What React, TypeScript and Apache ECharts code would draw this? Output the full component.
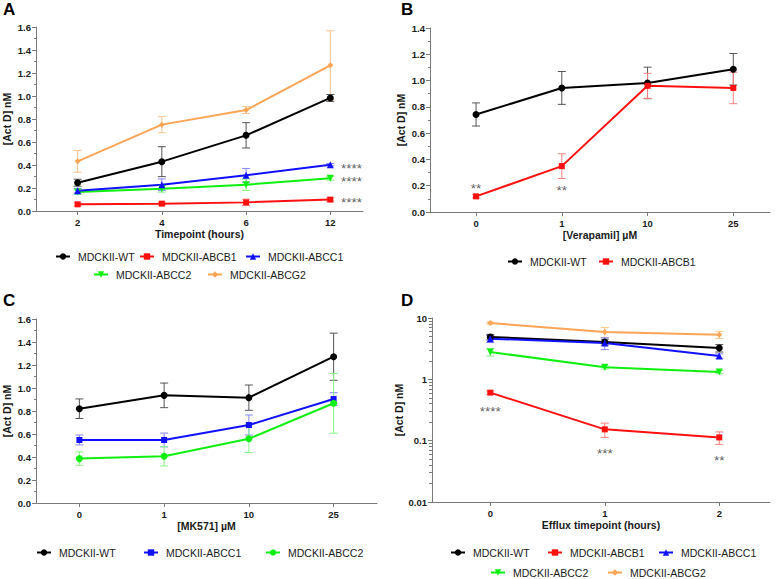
import React, { useEffect, useRef } from "react";
import * as echarts from "echarts";

// ---------- categories / tick labels ----------
const timepoints = ["2", "4", "6", "12"];
const verapamilDoses = ["0", "1", "10", "25"];
const mk571Doses = ["0", "1", "10", "25"];
const effluxHours = ["0", "1", "2"];
const logMinorTicks = [0.02, 0.03, 0.04, 0.05, 0.06, 0.07, 0.08, 0.09, 0.2, 0.3, 0.4, 0.5, 0.6, 0.7, 0.8, 0.9, 2, 3, 4, 5, 6, 7, 8, 9];

// ---------- panel A : uptake over time ----------
const aWT = [0.246, 0.429, 0.658, 0.983];
const aWTsd = [0.03, 0.13, 0.11, 0.03];
const aABCB1 = [0.058, 0.064, 0.075, 0.099];
const aABCB1sd = [0.012, 0.012, 0.028, 0.015];
const aABCC1 = [0.177, 0.229, 0.31, 0.403];
const aABCC1sd = [0.02, 0.05, 0.06, 0.01];
const aABCC2 = [0.165, 0.194, 0.229, 0.284];
const aABCC2sd = [0.02, 0.03, 0.05, 0.015];
const aABCG2 = [0.432, 0.751, 0.878, 1.267];
const aABCG2sd = [0.095, 0.07, 0.03, 0.3];
const aStars = [
  [3.25, 0.4, "****"],
  [3.25, 0.28, "****"],
  [3.25, 0.097, "****"],
];

// ---------- panel B : verapamil ----------
const bWT = [0.742, 0.944, 0.982, 1.086];
const bWTsd = [0.088, 0.125, 0.12, 0.12];
const bABCB1 = [0.119, 0.349, 0.96, 0.944];
const bABCB1sd = [0.012, 0.094, 0.095, 0.12];
const bStars = [
  [0, 0.205, "**"],
  [1, 0.19, "**"],
];

// ---------- panel C : MK571 ----------
const cWT = [0.82, 0.936, 0.916, 1.272];
const cWTsd = [0.085, 0.107, 0.11, 0.205];
const cABCC1 = [0.548, 0.548, 0.678, 0.904];
const cABCC1sd = [0.043, 0.06, 0.087, 0.055];
const cABCC2 = [0.386, 0.406, 0.559, 0.867];
const cABCC2sd = [0.058, 0.084, 0.12, 0.26];

// ---------- panel D : efflux (log scale) ----------
const dWT = [4.9, 4.06, 3.24];
const dWTsd = [0.5, 0.45, 0.45];
const dABCB1 = [0.607, 0.153, 0.113];
const dABCB1sd = [0.04, 0.04, 0.026];
const dABCC1 = [4.6, 3.9, 2.4];
const dABCC1sd = [0.6, 0.85, 0.2];
const dABCC2 = [2.79, 1.57, 1.32];
const dABCC2sd = [0.4, 0.1, 0.08];
const dABCG2 = [8.28, 5.92, 5.35];
const dABCG2sd = [0.3, 1.1, 0.7];
const dStars = [
  [0, 0.34, "****"],
  [1, 0.0687, "***"],
  [2, 0.054, "**"],
];

// ---------- styles ----------
const FONT = "'Liberation Sans', Arial, Helvetica, sans-serif";
const AXIS_COLOR = "#7a7a7a";
const TEXT_COLOR = "#1a1a1a";
const COL = {
  WT: "#000000",
  ABCB1: "#ff1010",
  ABCC1: "#1010ff",
  ABCC2: "#10f010",
  ABCG2: "#fca556",
};
const ERRCOL = {
  WT: "#555555",
  ABCB1: "#ff8080",
  ABCC1: "#8585ff",
  ABCC2: "#85f585",
  ABCG2: "#fdc48f",
};
const TRI_DOWN = "path://M0,0L10,0L5,9Z";

const lineSeries = (label: string, panel: string, grid: number, values: number[], key: keyof typeof COL, symbol: string, size = 7) => ({
  type: "line",
  name: `${label}#${panel}`,
  xAxisIndex: grid,
  yAxisIndex: grid,
  data: values.map((v, i) => [i, v]),
  symbol,
  symbolSize: size,
  showSymbol: true,
  lineStyle: { color: COL[key], width: 2 },
  itemStyle: { color: COL[key] },
  emphasis: { disabled: true },
  silent: true,
  z: 3,
});

const errorSeries = (panel: string, grid: number, values: number[], sds: number[], key: keyof typeof ERRCOL) => ({
  type: "custom",
  name: `err-${key}-${panel}`,
  xAxisIndex: grid,
  yAxisIndex: grid,
  data: values.map((v, i) => [i, v - sds[i], v + sds[i]]),
  encode: { x: 0, y: [1, 2] },
  silent: true,
  z: 2,
  renderItem: (_params: any, api: any) => {
    const x = api.value(0);
    const top = api.coord([x, api.value(2)]);
    const bot = api.coord([x, api.value(1)]);
    const half = 4;
    const st = { stroke: ERRCOL[key], lineWidth: 1, fill: "none" };
    return {
      type: "group",
      children: [
        { type: "line", shape: { x1: top[0], y1: top[1], x2: bot[0], y2: bot[1] }, style: st },
        { type: "line", shape: { x1: top[0] - half, y1: top[1], x2: top[0] + half, y2: top[1] }, style: st },
        { type: "line", shape: { x1: bot[0] - half, y1: bot[1], x2: bot[0] + half, y2: bot[1] }, style: st },
      ],
    };
  },
});

const starSeries = (grid: number, stars: any[]) => ({
  type: "scatter",
  name: `stars-${grid}`,
  xAxisIndex: grid,
  yAxisIndex: grid,
  data: stars,
  symbolSize: 1,
  itemStyle: { color: "transparent" },
  silent: true,
  z: 4,
  label: {
    show: true,
    position: "inside",
    offset: [0, 3],
    formatter: (p: any) => p.value[2],
    color: "#333",
    fontSize: 13.5,
    lineHeight: 10,
    fontFamily: FONT,
  },
});

const xAxis = (grid: number, labels: string[], min: number, max: number, name: string) => ({
  type: "value",
  gridIndex: grid,
  min,
  max,
  name,
  nameLocation: "middle",
  nameGap: 17,
  nameTextStyle: { fontFamily: FONT, fontWeight: "bold", fontSize: 10.5, color: TEXT_COLOR },
  splitLine: { show: false },
  axisLine: { show: true, onZero: false, lineStyle: { color: AXIS_COLOR, width: 1 } },
  axisTick: { show: true, length: 4, customValues: labels.map((_, i) => i), lineStyle: { color: AXIS_COLOR } },
  axisLabel: {
    customValues: labels.map((_, i) => i),
    formatter: (v: number) => labels[Math.round(v)] ?? "",
    fontFamily: FONT,
    fontWeight: "bold",
    fontSize: 9.5,
    color: TEXT_COLOR,
    margin: 6,
  },
});

const yAxisLinear = (grid: number, max: number) => ({
  type: "value",
  gridIndex: grid,
  min: 0,
  max,
  interval: 0.2,
  name: "[Act D] nM",
  nameLocation: "middle",
  nameRotate: 90,
  nameGap: 24,
  nameTextStyle: { fontFamily: FONT, fontWeight: "bold", fontSize: 10.5, color: TEXT_COLOR },
  splitLine: { show: false },
  axisLine: { show: true, onZero: false, lineStyle: { color: AXIS_COLOR, width: 1 } },
  axisTick: { show: true, length: 4, lineStyle: { color: AXIS_COLOR } },
  minorTick: { show: true, splitNumber: 2, length: 2, lineStyle: { color: AXIS_COLOR } },
  axisLabel: {
    formatter: (v: number) => v.toFixed(1),
    fontFamily: FONT,
    fontWeight: "bold",
    fontSize: 9.5,
    color: TEXT_COLOR,
    margin: 5,
  },
});

const legendItem = (seriesName: string, left: number, y: number) => ({
  data: [seriesName],
  left,
  top: y - 6,
  padding: 0,
  orient: "horizontal",
  itemWidth: 14,
  itemHeight: 8,
  selectedMode: false,
  formatter: (n: string) => n.split("#")[0],
  textStyle: { fontFamily: FONT, fontSize: 10.5, color: TEXT_COLOR, padding: [0, 0, 0, 3] },
});

const panelTitle = (text: string, left: number, top: number) => ({
  text,
  left,
  top,
  padding: 0,
  textStyle: { fontFamily: FONT, fontWeight: "bold", fontSize: 17, color: "#000" },
});

export default function App() {
  const ref = useRef<HTMLDivElement>(null);

  useEffect(() => {
    document.body.style.margin = "0";
    if (!ref.current) return;
    const chart = echarts.init(ref.current, undefined, { renderer: "svg" });

    const option: any = {
      animation: false,
      backgroundColor: "#ffffff",
      title: [
        panelTitle("A", 3, 1),
        panelTitle("B", 401, 1),
        panelTitle("C", 3, 292),
        panelTitle("D", 401, 292),
      ],
      grid: [
        { left: 33, top: 27, width: 330, height: 184 },
        { left: 430, top: 28, width: 340, height: 184 },
        { left: 33, top: 319, width: 344, height: 184 },
        { left: 432, top: 318, width: 338, height: 184 },
      ],
      xAxis: [
        xAxis(0, timepoints, -0.494, 3.388, "Timepoint (hours)"),
        xAxis(1, verapamilDoses, -0.537, 3.428, "[Verapamil] µM"),
        xAxis(2, mk571Doses, -0.512, 3.512, "[MK571] µM"),
        xAxis(3, effluxHours, -0.509, 2.443, "Efflux timepoint (hours)"),
      ],
      yAxis: [
        yAxisLinear(0, 1.6),
        yAxisLinear(1, 1.4),
        yAxisLinear(2, 1.6),
        {
          type: "log",
          gridIndex: 3,
          logBase: 10,
          min: 0.01,
          max: 10,
          name: "[Act D] nM",
          nameLocation: "middle",
          nameRotate: 90,
          nameGap: 26,
          nameTextStyle: { fontFamily: FONT, fontWeight: "bold", fontSize: 10.5, color: TEXT_COLOR },
          splitLine: { show: false },
          axisLine: { show: true, onZero: false, lineStyle: { color: AXIS_COLOR, width: 1 } },
          axisTick: { show: true, length: 4, lineStyle: { color: AXIS_COLOR } },
          axisLabel: {
            formatter: (v: number) => (v >= 1 ? String(Math.round(v)) : String(Number(v.toPrecision(1)))),
            fontFamily: FONT,
            fontWeight: "bold",
            fontSize: 9.5,
            color: TEXT_COLOR,
            margin: 5,
          },
        },
        {
          type: "value",
          gridIndex: 3,
          position: "left",
          min: -2,
          max: 1,
          axisLine: { show: false, onZero: false },
          splitLine: { show: false },
          axisLabel: { show: false },
          axisTick: {
            show: true,
            length: 3,
            customValues: logMinorTicks.map((v) => Math.log10(v)),
            lineStyle: { color: AXIS_COLOR },
          },
        },
      ],
      legend: [
        legendItem("MDCKII-WT#A", 55, 257),
        legendItem("MDCKII-ABCB1#A", 139, 257),
        legendItem("MDCKII-ABCC1#A", 245, 257),
        legendItem("MDCKII-ABCC2#A", 93, 275),
        legendItem("MDCKII-ABCG2#A", 207, 275),
        legendItem("MDCKII-WT#B", 507, 262),
        legendItem("MDCKII-ABCB1#B", 598, 262),
        legendItem("MDCKII-WT#C", 36, 553),
        legendItem("MDCKII-ABCC1#C", 143, 553),
        legendItem("MDCKII-ABCC2#C", 265, 553),
        legendItem("MDCKII-WT#D", 450, 553),
        legendItem("MDCKII-ABCB1#D", 547, 553),
        legendItem("MDCKII-ABCC1#D", 658, 553),
        legendItem("MDCKII-ABCC2#D", 490, 573),
        legendItem("MDCKII-ABCG2#D", 607, 573),
      ],
      series: [
        // Panel A
        errorSeries("A", 0, aABCG2, aABCG2sd, "ABCG2"),
        errorSeries("A", 0, aWT, aWTsd, "WT"),
        errorSeries("A", 0, aABCC1, aABCC1sd, "ABCC1"),
        errorSeries("A", 0, aABCC2, aABCC2sd, "ABCC2"),
        errorSeries("A", 0, aABCB1, aABCB1sd, "ABCB1"),
        lineSeries("MDCKII-ABCG2", "A", 0, aABCG2, "ABCG2", "diamond", 6),
        lineSeries("MDCKII-ABCC2", "A", 0, aABCC2, "ABCC2", TRI_DOWN, 7),
        lineSeries("MDCKII-ABCC1", "A", 0, aABCC1, "ABCC1", "triangle", 7),
        lineSeries("MDCKII-ABCB1", "A", 0, aABCB1, "ABCB1", "rect", 6),
        lineSeries("MDCKII-WT", "A", 0, aWT, "WT", "circle", 7),
        starSeries(0, aStars),
        // Panel B
        errorSeries("B", 1, bWT, bWTsd, "WT"),
        errorSeries("B", 1, bABCB1, bABCB1sd, "ABCB1"),
        lineSeries("MDCKII-WT", "B", 1, bWT, "WT", "circle", 7),
        lineSeries("MDCKII-ABCB1", "B", 1, bABCB1, "ABCB1", "rect", 6),
        starSeries(1, bStars),
        // Panel C
        errorSeries("C", 2, cWT, cWTsd, "WT"),
        errorSeries("C", 2, cABCC1, cABCC1sd, "ABCC1"),
        errorSeries("C", 2, cABCC2, cABCC2sd, "ABCC2"),
        lineSeries("MDCKII-WT", "C", 2, cWT, "WT", "circle", 7),
        lineSeries("MDCKII-ABCC1", "C", 2, cABCC1, "ABCC1", "rect", 6),
        lineSeries("MDCKII-ABCC2", "C", 2, cABCC2, "ABCC2", "circle", 7),
        // Panel D
        errorSeries("D", 3, dABCG2, dABCG2sd, "ABCG2"),
        errorSeries("D", 3, dWT, dWTsd, "WT"),
        errorSeries("D", 3, dABCC1, dABCC1sd, "ABCC1"),
        errorSeries("D", 3, dABCC2, dABCC2sd, "ABCC2"),
        errorSeries("D", 3, dABCB1, dABCB1sd, "ABCB1"),
        lineSeries("MDCKII-ABCG2", "D", 3, dABCG2, "ABCG2", "diamond", 6),
        lineSeries("MDCKII-WT", "D", 3, dWT, "WT", "circle", 7),
        lineSeries("MDCKII-ABCC1", "D", 3, dABCC1, "ABCC1", "triangle", 7),
        lineSeries("MDCKII-ABCC2", "D", 3, dABCC2, "ABCC2", TRI_DOWN, 7),
        lineSeries("MDCKII-ABCB1", "D", 3, dABCB1, "ABCB1", "rect", 6),
        starSeries(3, dStars),
      ],
    };

    chart.setOption(option);
    return () => chart.dispose();
  }, []);

  return <div ref={ref} style={{ width: 777, height: 579 }} />;
}
